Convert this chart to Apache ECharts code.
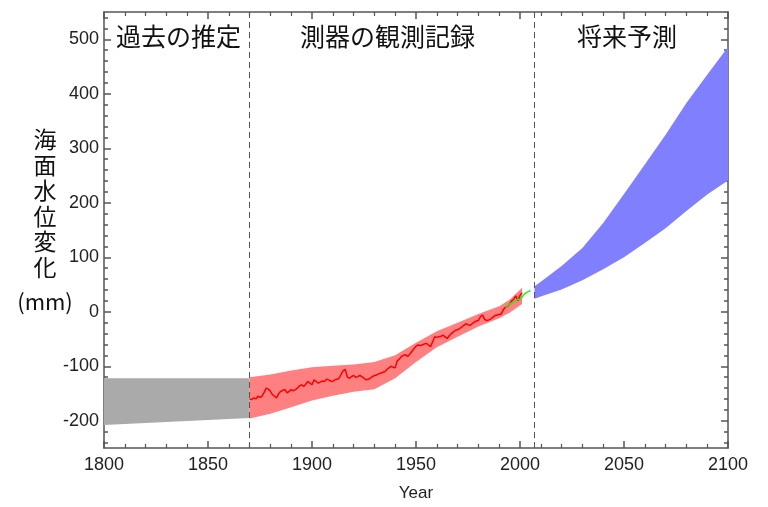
<!DOCTYPE html>
<html>
<head>
<meta charset="utf-8">
<title>海面水位変化</title>
<script src="https://cdn.jsdelivr.net/npm/echarts@6/dist/echarts.min.js"></script>
<style>
	html, body { margin: 0; padding: 0; background: #fff; }
	#chart { width: 768px; height: 507px; }
</style>
</head>
<body>
<div id="chart"></div>
<script>
// 過去の推定（灰色の帯）
var pastYears = [1800, 1870];
var pastLow = [-208, -195];
var pastHigh = [-122, -122];

// 測器の観測記録（赤い帯）
var obsBandYears = [1870, 1880, 1890, 1900, 1910, 1920, 1930, 1940, 1950, 1960, 1970, 1980, 1990, 1995, 2001];
var obsBandLow = [-196, -187, -175, -163, -154, -147, -142, -122, -92, -65, -46, -27, -12, -2, 14];
var obsBandHigh = [-120, -115, -108, -102, -99, -97, -92, -80, -57, -36, -20, -4, 10, 22, 44];

// 年ごとの観測値（赤線）1870年から
var obsStartYear = 1870;
var obsValues = [
	-160, -161, -158, -160, -155, -157, -155, -148, -140, -142,
	-146, -152, -155, -158, -150, -146, -144, -143, -149, -146,
	-143, -145, -143, -140, -136, -134, -137, -133, -128, -131,
	-134, -125, -128, -131, -129, -127, -128, -124, -125, -127,
	-128, -125, -124, -122, -115, -108, -106, -120, -122, -119,
	-117, -120, -119, -117, -119, -122, -125, -124, -122, -119,
	-117, -116, -114, -113, -111, -110, -106, -103, -100, -102,
	-103, -90, -87, -82, -80, -79, -82, -78, -73, -68,
	-63, -61, -62, -61, -59, -58, -61, -64, -55, -46,
	-47, -46, -45, -43, -46, -49, -44, -40, -37, -34,
	-33, -31, -28, -25, -22, -24, -25, -22, -19, -17,
	-16, -9, -6, -14, -16, -15, -13, -10, -7, -6,
	-5, -4, 4, 8, 10, 14, 20, 23, 29, 20,
	30, 35
];

// 衛星観測（緑線）1993年から
var satStartYear = 1993;
var satValues = [8, 11, 14, 16, 18, 21, 23, 22, 27, 32, 35, 37, 39];

// 将来予測（青い帯）
var projYears = [2007, 2010, 2020, 2030, 2040, 2050, 2060, 2070, 2080, 2090, 2100];
var projLow = [24, 28, 41, 58, 78, 100, 126, 153, 185, 215, 241];
var projHigh = [47, 55, 84, 117, 163, 216, 270, 325, 383, 435, 486];

// 区切り線
var dividerYears = [1870, 2007];

// 目盛り
var yMajorTicks = [-200, -100, 0, 100, 200, 300, 400, 500];
var yMinorTicks = [-240, -220, -180, -160, -140, -120, -80, -60, -40, -20,
	20, 40, 60, 80, 120, 140, 160, 180, 220, 240, 260, 280,
	320, 340, 360, 380, 420, 440, 460, 480, 520, 540];

var axisColor = '#555';
var textColor = '#222';

var myChart = echarts.init(document.getElementById('chart'));

// 帯を多角形で描く
function band(xs, lo, hi, color) {
	return {
		type: 'custom',
		coordinateSystem: 'cartesian2d',
		silent: true,
		clip: true,
		z: 1,
		data: xs.map(function (x, i) { return [x, lo[i], hi[i]]; }),
		encode: { x: 0, y: [1, 2] },
		renderItem: function (params, api) {
			if (params.dataIndex !== 0) return;
			var pts = [];
			for (var i = 0; i < xs.length; i++) pts.push(api.coord([xs[i], hi[i]]));
			for (var j = xs.length - 1; j >= 0; j--) pts.push(api.coord([xs[j], lo[j]]));
			return { type: 'polygon', shape: { points: pts }, style: { fill: color } };
		}
	};
}

function yAxisTicks(position, ticks, len, showLine, showLabel) {
	return {
		type: 'value',
		position: position,
		min: -250,
		max: 550,
		axisLine: { show: showLine, onZero: false, lineStyle: { color: axisColor, width: 1.5 } },
		axisTick: { show: true, inside: true, length: len, customValues: ticks, lineStyle: { color: axisColor, width: 1.5 } },
		axisLabel: {
			show: showLabel,
			customValues: ticks,
			color: textColor,
			fontSize: 18,
			fontFamily: 'Liberation Sans',
			margin: 5,
			formatter: function (v) { return String(v); }
		},
		splitLine: { show: false }
	};
}

function xAxisTicks(position, showLabel) {
	return {
		type: 'value',
		position: position,
		min: 1800,
		max: 2100,
		interval: 50,
		name: showLabel ? 'Year' : '',
		nameLocation: 'middle',
		nameGap: 37,
		nameTextStyle: { color: textColor, fontSize: 17, fontFamily: 'Liberation Sans' },
		axisLine: { show: true, onZero: false, lineStyle: { color: axisColor, width: 1.5 } },
		axisTick: { show: true, inside: true, length: 7, lineStyle: { color: axisColor, width: 1.5 } },
		minorTick: { show: true, splitNumber: 5, length: 4, lineStyle: { color: axisColor, width: 1.2 } },
		axisLabel: {
			show: showLabel,
			color: textColor,
			fontSize: 18,
			fontFamily: 'Liberation Sans',
			margin: 8,
			showMinLabel: true,
			showMaxLabel: true,
			formatter: function (v) { return String(v); }
		},
		splitLine: { show: false },
		minorSplitLine: { show: false }
	};
}

var titleFont = '"Noto Sans CJK JP", sans-serif';

var option = {
	animation: false,
	backgroundColor: '#fff',
	grid: { left: 104, right: 40, top: 12, bottom: 52 },
	xAxis: [xAxisTicks('bottom', true), xAxisTicks('top', false)],
	yAxis: [
		yAxisTicks('left', yMajorTicks, 7, true, true),
		yAxisTicks('left', yMinorTicks, 4, false, false),
		yAxisTicks('right', yMajorTicks, 7, true, false),
		yAxisTicks('right', yMinorTicks, 4, false, false)
	],
	graphic: [
		{ type: 'text', left: 116, top: 24, style: { text: '過去の推定', fontSize: 25, fontFamily: titleFont, fill: '#111' } },
		{ type: 'text', left: 300, top: 24, style: { text: '測器の観測記録', fontSize: 25, fontFamily: titleFont, fill: '#111' } },
		{ type: 'text', left: 577, top: 24, style: { text: '将来予測', fontSize: 25, fontFamily: titleFont, fill: '#111' } },
		{
			type: 'text', x: 45, y: 127,
			style: {
				text: '海\n面\n水\n位\n変\n化', fontSize: 23, lineHeight: 25.5,
				fontFamily: titleFont, fill: '#111', align: 'center', verticalAlign: 'top'
			}
		},
		{
			type: 'text', x: 45, y: 302,
			style: { text: '(mm)', fontSize: 22, fontFamily: titleFont, fill: '#111', align: 'center', verticalAlign: 'middle' }
		}
	],
	series: [
		band(pastYears, pastLow, pastHigh, '#aaaaaa'),
		band(obsBandYears, obsBandLow, obsBandHigh, '#ff8080'),
		band(projYears, projLow, projHigh, '#8080ff'),
		{
			name: '観測',
			type: 'line',
			z: 3,
			symbol: 'none',
			data: obsValues.map(function (v, i) { return [obsStartYear + i, v]; }),
			lineStyle: { color: '#ff0000', width: 1.5 },
			markLine: {
				silent: true,
				symbol: 'none',
				label: { show: false },
				lineStyle: { color: '#555', width: 1, type: [6, 4] },
				data: dividerYears.map(function (y) { return { xAxis: y }; })
			}
		},
		{
			name: '衛星',
			type: 'line',
			z: 4,
			symbol: 'none',
			data: satValues.map(function (v, i) { return [satStartYear + i, v]; }),
			lineStyle: { color: '#22ee22', width: 1.5 }
		}
	]
};

myChart.setOption(option);
window.addEventListener('resize', function () {
	myChart.resize();
});
</script>
</body>
</html>
